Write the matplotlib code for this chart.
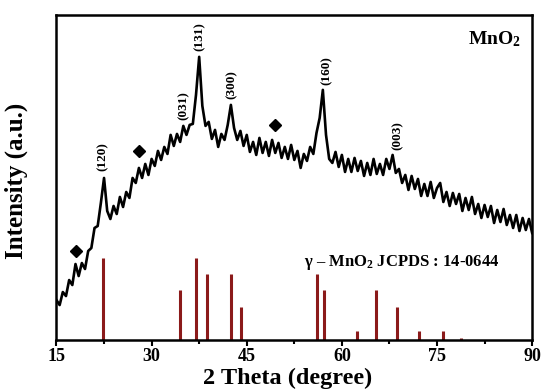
import matplotlib
matplotlib.use("Agg")
import matplotlib.pyplot as plt
import numpy as np

# --- data ---
two_theta = np.arange(15.0, 90.01, 0.5)
intensity = [
    40, 35, 48, 44, 60, 55, 76, 64, 77, 71,          # 15.0 - 19.5
    89, 92, 112, 114, 137, 162, 129, 121, 134, 126,  # 20.0 - 24.5
    143, 133, 148, 142, 162, 157, 172, 162, 176, 165,  # 25.0 - 29.5
    181, 174, 189, 180, 193, 186, 205, 194, 206, 198,  # 30.0 - 34.5
    214, 205, 215, 216, 245, 283, 234, 214, 218, 201,  # 35.0 - 39.5
    210, 193, 206, 200, 215, 235, 212, 200, 209, 194,  # 40.0 - 44.5
    205, 188, 198, 185, 202, 187, 198, 184, 200, 187,  # 45.0 - 49.5
    197, 182, 193, 181, 195, 180, 189, 172, 186, 179,  # 50.0 - 54.5
    193, 186, 207, 222, 250, 205, 181, 177, 188, 173,  # 55.0 - 59.5
    185, 168, 181, 168, 182, 169, 179, 164, 177, 165,  # 60.0 - 64.5
    181, 166, 176, 165, 181, 171, 185, 167, 171, 157,  # 65.0 - 69.5
    165, 150, 164, 151, 161, 144, 156, 144, 158, 142,  # 70.0 - 74.5
    152, 157, 138, 148, 134, 147, 136, 146, 129, 142,  # 75.0 - 79.5
    130, 143, 126, 136, 122, 135, 123, 134, 117, 130,  # 80.0 - 84.5
    118, 131, 115, 125, 112, 125, 109, 122, 110, 121,  # 85.0 - 89.5
    107,                                             # 90.0
]

ref_pos = [22.4, 34.5, 37.0, 38.7, 42.5, 44.05, 56.0, 57.2, 62.35, 65.4, 68.65, 72.2, 75.9, 78.8]
ref_height = [82, 50, 82, 66, 66, 33, 66, 50, 9, 50, 33, 9, 9, 2]

peak_labels = ["(120)", "(031)", "(131)", "(300)", "(160)", "(003)"]
peak_label_x = [22.3, 35.0, 37.5, 42.6, 57.6, 68.8]
peak_label_y = [183, 234, 303, 255, 269, 204]

diamond_x = [18.1, 28.0, 49.5]
diamond_y = [89, 189, 215]

xticks = [15, 30, 45, 60, 75, 90]

# --- figure ---
plt.rcParams['font.family'] = ['Liberation Serif', 'DejaVu Serif']
plt.rcParams['font.weight'] = 'bold'
plt.rcParams['mathtext.fontset'] = 'custom'
plt.rcParams['mathtext.rm'] = 'Liberation Serif:bold'
plt.rcParams['mathtext.bf'] = 'Liberation Serif:bold'
plt.rcParams['mathtext.it'] = 'Liberation Serif:bold'

fig = plt.figure(figsize=(5.43, 3.90), dpi=100)
ax = fig.add_axes([0.104, 0.128, 0.876, 0.834])

ax.plot(two_theta, intensity, color='black', lw=1.9)
ax.vlines(ref_pos, 0, ref_height, color='#8B1A1A', lw=2.2)
ax.plot(diamond_x, diamond_y, 'D', color='black', ms=6)

for lab, lx, ly in zip(peak_labels, peak_label_x, peak_label_y):
    ax.text(lx, ly, lab, rotation=90, ha='center', va='center', fontsize=9.5, fontweight='bold')

ax.text(0.977, 0.955, r'MnO$_\mathbf{2}$', transform=ax.transAxes, ha='right', va='top',
        fontsize=14, fontweight='bold')
ax.text(69.5, 78, r'γ – MnO$_\mathbf{2}$ JCPDS : 14-0644', ha='center', va='center',
        fontsize=12, fontweight='bold')

ax.set_xlim(15, 90)
ax.set_ylim(0, 325)
ax.set_xticks(xticks)
ax.set_xticks(np.arange(22.5, 90, 15), minor=True)
ax.set_yticks([])
ax.tick_params(axis='x', which='major', direction='out', length=4, width=1.5, labelsize=13, pad=2)
ax.tick_params(axis='x', which='minor', direction='out', length=3, width=1.5)
for lbl in ax.get_xticklabels():
    lbl.set_fontweight('bold')
for s in ax.spines.values():
    s.set_linewidth(1.8)

ax.set_xlabel('2 Theta (degree)', fontsize=17.5, fontweight='bold')
ax.set_ylabel('Intensity (a.u.)', fontsize=18, fontweight='bold')
ax.xaxis.set_label_coords(0.485, -0.085)
ax.yaxis.set_label_coords(-0.06, 0.49)

fig.savefig('out.png', dpi=100)
